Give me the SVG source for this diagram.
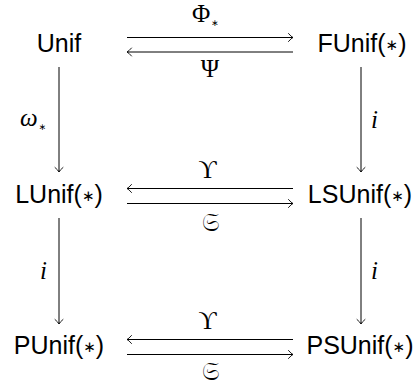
<svg xmlns="http://www.w3.org/2000/svg" width="416" height="385" viewBox="0 0 416 385">
<defs>
<marker id="ah" markerUnits="userSpaceOnUse" markerWidth="12" markerHeight="12" viewBox="-8 -6 10 12" refX="0" refY="0" orient="auto" overflow="visible">
<path d="M -4.5 -4 Q -1.5 -0.6 0 0 Q -1.5 0.6 -4.5 4" fill="none" stroke="#000" stroke-width="0.9" stroke-linecap="round"/>
</marker>
</defs>
<style>
.node{font-family:"Liberation Sans",Arial,sans-serif;font-size:25px;fill:#000;text-anchor:middle}
.ast{font-family:"DejaVu Sans",sans-serif;font-size:15px}
.lab{font-family:"Liberation Serif","DejaVu Serif",serif;font-size:25px;fill:#000}
.it{font-style:italic}
.sub{font-family:"DejaVu Sans",sans-serif;font-size:9px;font-style:normal}
.edge{stroke:#000;stroke-width:1;fill:none;marker-end:url(#ah)}
</style>
<g id="connectors">
<line class="edge" x1="127" y1="37.5" x2="293" y2="37.5"/>
<line class="edge" x1="293" y1="52" x2="127" y2="52"/>
<line class="edge" x1="293" y1="188.5" x2="127" y2="188.5"/>
<line class="edge" x1="127" y1="203.5" x2="293" y2="203.5"/>
<line class="edge" x1="293" y1="339.5" x2="127" y2="339.5"/>
<line class="edge" x1="127" y1="354.5" x2="293" y2="354.5"/>
<line class="edge" x1="59" y1="67" x2="59" y2="172"/>
<line class="edge" x1="361" y1="67" x2="361" y2="172"/>
<line class="edge" x1="59" y1="218" x2="59" y2="324"/>
<line class="edge" x1="361" y1="218" x2="361" y2="324"/>
<text class="lab" x="192" y="22">Φ<tspan class="sub" dx="1" dy="4">∗</tspan></text>
<text class="lab" x="210" y="77" text-anchor="middle" font-size="27">Ψ</text>
<text class="lab" x="207.5" y="178" text-anchor="middle" font-family="DejaVu Serif,serif" font-size="22">ϒ</text>
<text class="lab" x="210.5" y="231" text-anchor="middle" font-size="32">𝔖</text>
<text class="lab" x="207.5" y="329" text-anchor="middle" font-family="DejaVu Serif,serif" font-size="22">ϒ</text>
<text class="lab" x="210.5" y="380" text-anchor="middle" font-size="30">𝔖</text>
<text class="lab it" x="20" y="126" font-size="27">ω<tspan class="sub" dx="1" dy="4">∗</tspan></text>
<text class="lab it" x="371" y="128">i</text>
<text class="lab it" x="40" y="279">i</text>
<text class="lab it" x="371" y="279">i</text>
</g>
<g id="Unif"><text class="node" x="59" y="52">Unif</text></g>
<g id="FUnif"><text class="node" x="362" y="52">FUnif(<tspan class="ast" dy="-2">∗</tspan><tspan dy="2">)</tspan></text></g>
<g id="LUnif"><text class="node" x="59" y="203">LUnif(<tspan class="ast" dy="-2">∗</tspan><tspan dy="2">)</tspan></text></g>
<g id="LSUnif"><text class="node" x="360" y="203">LSUnif(<tspan class="ast" dy="-2">∗</tspan><tspan dy="2">)</tspan></text></g>
<g id="PUnif"><text class="node" x="59" y="354">PUnif(<tspan class="ast" dy="-2">∗</tspan><tspan dy="2">)</tspan></text></g>
<g id="PSUnif"><text class="node" x="360" y="354">PSUnif(<tspan class="ast" dy="-2">∗</tspan><tspan dy="2">)</tspan></text></g>
</svg>
